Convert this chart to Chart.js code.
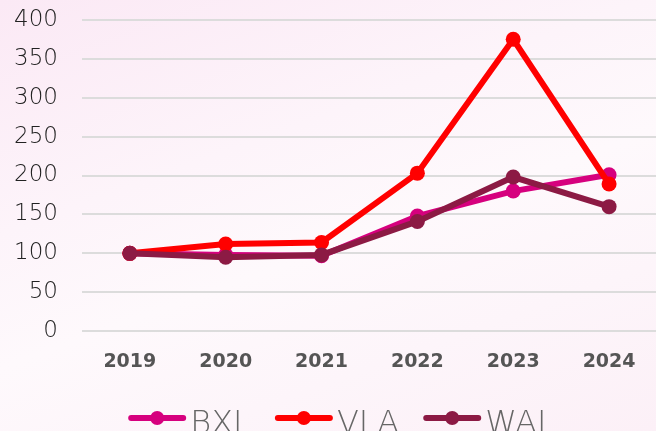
<!DOCTYPE html>
<html>
<head>
<meta charset="utf-8">
<script src="https://cdn.jsdelivr.net/npm/chart.js@4"></script>
<style>
  html, body { margin: 0; padding: 0; overflow: hidden; }
  body {
    width: 656px; height: 431px; position: relative;
    background: linear-gradient(160deg, #fbe9f5 0%, #fdf4fa 35%, #fef9fc 55%, #fdf5fa 75%, #fcf0f7 100%);
  }
  #c { position: absolute; left: -22px; top: -18px; }
</style>
</head>
<body>
<canvas id="c" width="679" height="476"></canvas>
<script>
const years = ["2019", "2020", "2021", "2022", "2023", "2024"];
const bxl = [100, 98, 97, 148, 180, 201];
const vla = [100, 112, 114, 203, 375, 189];
const wal = [100, 95, 98, 141, 198, 160];
const yTicks = [0, 50, 100, 150, 200, 250, 300, 350, 400];

const COLORS = { BXL: "#d6007e", VLA: "#ff0000", WAL: "#8c1a44" };
const THIN = "'DejaVu Sans', sans-serif";
const BOLD = "'DejaVu Sans', sans-serif";
const LEGEND_DX = 18;
const LEGEND_DY = -7;

function series(label, data, order) {
  return {
    label,
    data,
    order,
    borderColor: COLORS[label],
    backgroundColor: COLORS[label],
    borderWidth: 6,
    pointRadius: 7.5,
    pointHoverRadius: 7.5,
    pointBorderWidth: 0,
    tension: 0,
    clip: false,
  };
}

// nudge the legend, then draw line + dot symbols over the invisible boxes
const legendLines = {
  id: "legendLines",
  afterLayout(chart) {
    const lg = chart.legend;
    if (!lg) return;
    lg.left += LEGEND_DX;
    lg.right += LEGEND_DX;
    lg.top += LEGEND_DY;
    lg.bottom += LEGEND_DY;
    lg.legendHitBoxes.forEach((hb) => { hb.left += LEGEND_DX; hb.top += LEGEND_DY; });
  },
  afterDraw(chart) {
    const lg = chart.legend;
    if (!lg || !lg.legendHitBoxes) return;
    const ctx = chart.ctx;
    lg.legendHitBoxes.forEach((hb, i) => {
      const color = lg.legendItems[i].strokeStyle;
      const cy = hb.top + hb.height / 2;
      ctx.save();
      ctx.strokeStyle = color;
      ctx.fillStyle = color;
      ctx.lineWidth = 6;
      ctx.lineCap = "round";
      ctx.beginPath();
      ctx.moveTo(hb.left + 3, cy);
      ctx.lineTo(hb.left + 55, cy);
      ctx.stroke();
      ctx.beginPath();
      ctx.arc(hb.left + 29, cy, 7, 0, Math.PI * 2);
      ctx.fill();
      ctx.restore();
    });
  },
};

new Chart(document.getElementById("c"), {
  type: "line",
  data: {
    labels: years,
    datasets: [series("BXL", bxl, 3), series("VLA", vla, 2), series("WAL", wal, 1)],
  },
  options: {
    responsive: false,
    animation: false,
    layout: { autoPadding: false, padding: { top: 6, right: 0, left: 12, bottom: 0 } },
    scales: {
      x: {
        offset: true,
        grid: { display: false, drawTicks: false },
        border: { display: false },
        ticks: {
          color: "#555555",
          padding: 19,
          font: { family: BOLD, size: 19, weight: "bold" },
        },
      },
      y: {
        min: 0,
        max: 400,
        afterBuildTicks: (axis) => { axis.ticks = yTicks.map((v) => ({ value: v })); },
        grid: { color: "#dcdcdc", lineWidth: 2, drawTicks: false },
        border: { display: false },
        ticks: {
          color: "#222222",
          padding: 24,
          font: { family: THIN, size: 23, weight: "200" },
        },
      },
    },
    plugins: {
      tooltip: { enabled: false },
      legend: {
        position: "bottom",
        labels: {
          sort: (a, b) => a.datasetIndex - b.datasetIndex,
          color: "#666666",
          boxWidth: 46,
          boxHeight: 6,
          padding: 24,
          font: { family: THIN, size: 32, weight: "200" },
          generateLabels: (chart) =>
            chart.data.datasets.map((ds, i) => ({
              text: ds.label,
              datasetIndex: i,
              fillStyle: "rgba(0,0,0,0)",
              strokeStyle: ds.borderColor,
              lineWidth: 0,
              fontColor: "#666666",
            })),
        },
      },
    },
  },
  plugins: [legendLines],
});
</script>
</body>
</html>
